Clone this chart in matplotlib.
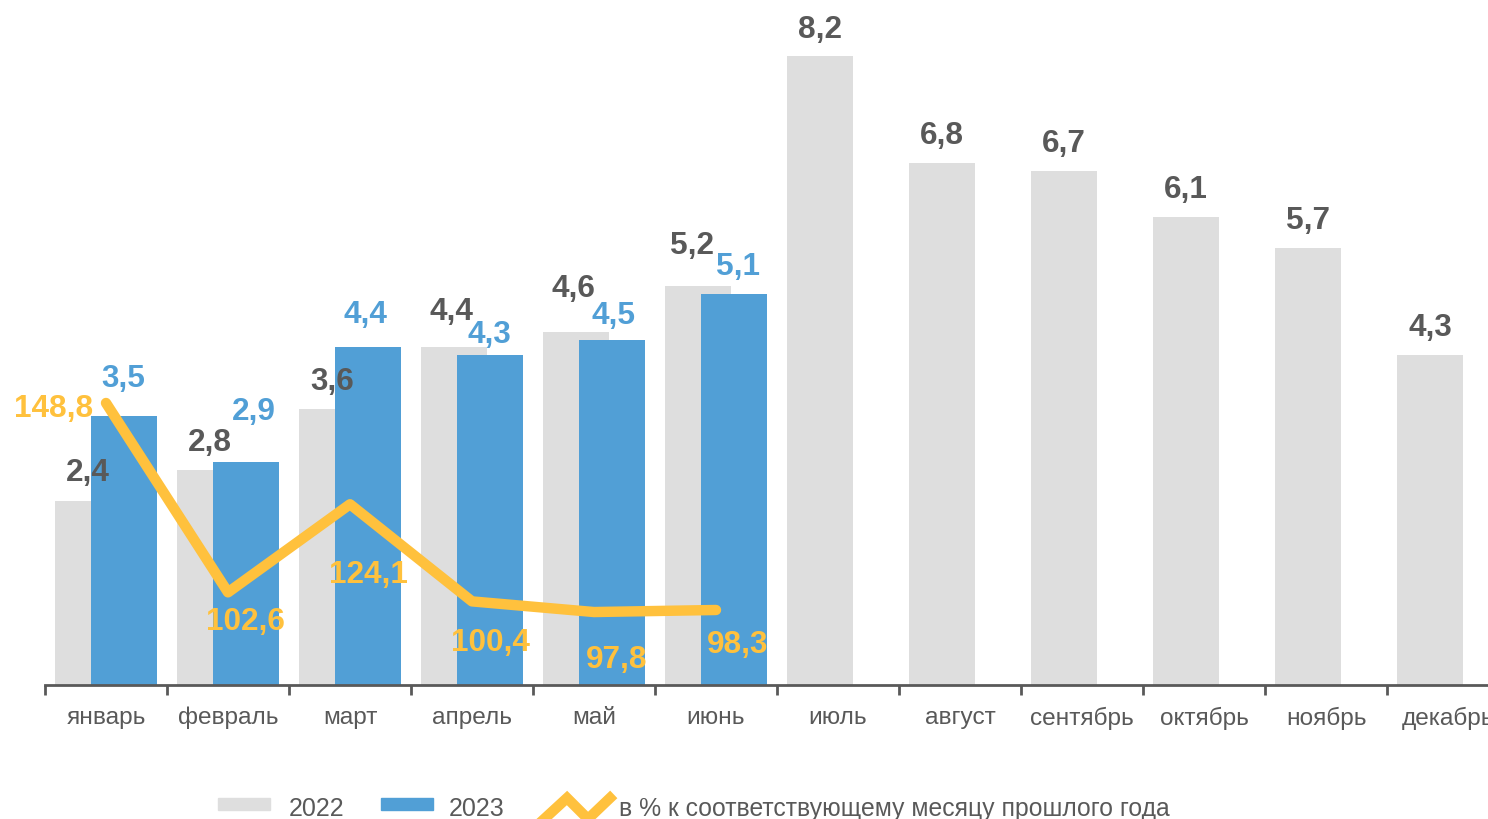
import matplotlib
matplotlib.use("Agg")
import matplotlib.pyplot as plt
from matplotlib.patches import Rectangle
from matplotlib.lines import Line2D
import numpy as np

plt.rcParams['font.family'] = ['Liberation Sans', 'DejaVu Sans']

months = ["январь", "февраль", "март", "апрель", "май", "июнь",
          "июль", "август", "сентябрь", "октябрь", "ноябрь", "декабрь"]
v2022 = [2.4, 2.8, 3.6, 4.4, 4.6, 5.2, 8.2, 6.8, 6.7, 6.1, 5.7, 4.3]
v2023 = [3.5, 2.9, 4.4, 4.3, 4.5, 5.1]
pct = [148.8, 102.6, 124.1, 100.4, 97.8, 98.3]

legend_labels = ["2022", "2023", "в % к соответствующему месяцу прошлого года"]

# label offsets in pixels (dx, dy) relative to bar top / point
off2022 = [(0, 29), (0, 28), (0, 28), (-3, 36), (-3, 44), (-6, 41),
           (0, 27), (0, 28), (0, 28), (0, 28), (0, 28), (0, 28)]
off2023 = [(-1, 38), (8, 51), (-3, 33), (-1, 21), (2, 25), (4, 28)]
offpct = [(-52, -5), (17, -29), (18, -70), (18, -41), (23, -47), (22, -34)]

GRAY = "#DEDEDE"
BLUE = "#519FD6"
YELLOW = "#FFC13D"
TXT = "#595959"

W, H = 1488, 820
fig = plt.figure(figsize=(W / 100, H / 100), dpi=100)

# axes: left at x=45, baseline at y=686, slot width 122 px, top at y=0
left_px, base_px, slot = 45, 686, 122
ax = fig.add_axes([left_px / W, (H - base_px) / H, 12 * slot / W, base_px / H])
ax.set_xlim(0, 12)
ppu = (686 - 56.7) / 8.2
ax.set_ylim(0, base_px / ppu)

x = np.arange(12)
bw = 66 / slot
sh = 18 / slot
ax.bar(x + 0.5 - sh, v2022, width=bw, color=GRAY, zorder=2)
x23 = np.arange(len(v2023))
ax.bar(x23 + 0.5 + sh, v2023, width=bw, color=BLUE, zorder=3)

LBL = 22.7
for i, v in enumerate(v2022):
    dx, dy = off2022[i]
    ax.annotate(f"{v:.1f}".replace(".", ","), (i + 0.5 - sh, v),
                xytext=(dx, dy), textcoords="offset pixels",
                ha="center", va="center", fontsize=LBL, fontweight="bold",
                color=TXT, zorder=6)
for i, v in enumerate(v2023):
    dx, dy = off2023[i]
    ax.annotate(f"{v:.1f}".replace(".", ","), (i + 0.5 + sh, v),
                xytext=(dx, dy), textcoords="offset pixels",
                ha="center", va="center", fontsize=LBL, fontweight="bold",
                color=BLUE, zorder=6)

ax.set_xticks(np.arange(13))
ax.set_xticklabels([])
ax.set_xticks(x + 0.5, minor=True)
ax.set_xticklabels(months, minor=True, fontsize=17.6, color=TXT)
ax.tick_params(axis="x", which="major", length=7, width=2, color=TXT, direction="out")
ax.tick_params(axis="x", which="minor", length=0, pad=15)
ax.set_yticks([])
for s in ["top", "right", "left"]:
    ax.spines[s].set_visible(False)
ax.spines["bottom"].set_color(TXT)
ax.spines["bottom"].set_linewidth(2)
ax.spines["bottom"].set_zorder(5)

ax2 = ax.twinx()
ppu2 = (611 - 404) / (148.8 - 98.3)
ax2.set_ylim(80, 80 + base_px / ppu2)
ax2.set_yticks([])
for s in ax2.spines.values():
    s.set_visible(False)
xp = np.arange(len(pct)) + 0.5
ax2.plot(xp, pct, color=YELLOW, lw=7.5, solid_capstyle="round",
         solid_joinstyle="round", zorder=4)
for i, v in enumerate(pct):
    dx, dy = offpct[i]
    ax2.annotate(f"{v:.1f}".replace(".", ","), (xp[i], v),
                 xytext=(dx, dy), textcoords="offset pixels",
                 ha="center", va="center", fontsize=LBL, fontweight="bold",
                 color=YELLOW, zorder=6)

# legend (manual, in figure pixels)
def fx(px):
    return px / W

def fy(py):
    return (H - py) / H

fig.add_artist(Rectangle((fx(218), fy(811)), 52 / W, 12 / H,
                         transform=fig.transFigure, color=GRAY))
fig.text(fx(289), fy(809), legend_labels[0], fontsize=18, color=TXT,
         va="center", ha="left")
fig.add_artist(Rectangle((fx(381), fy(811)), 52 / W, 12 / H,
                         transform=fig.transFigure, color=BLUE))
fig.text(fx(449), fy(809), legend_labels[1], fontsize=18, color=TXT,
         va="center", ha="left")
fig.add_artist(Line2D([fx(542), fx(567), fx(588), fx(610)],
                      [fy(822), fy(799), fy(820), fy(799)],
                      transform=fig.transFigure, color=YELLOW, lw=7.5,
                      solid_joinstyle="miter"))
fig.text(fx(619), fy(809), legend_labels[2], fontsize=17.8, color=TXT,
         va="center", ha="left")

fig.savefig("out.png", dpi=100)
